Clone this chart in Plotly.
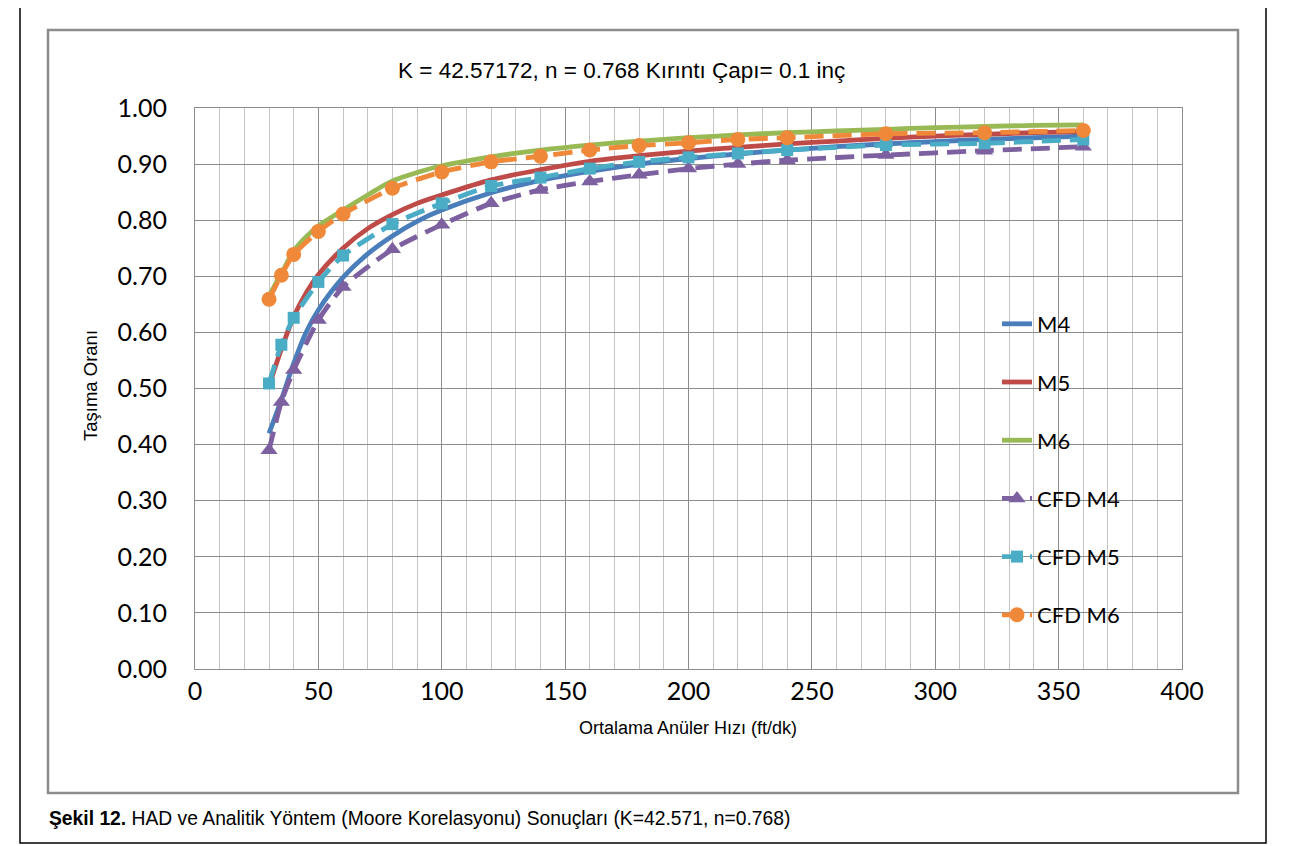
import plotly.graph_objects as go

# ---------------- data ----------------
x_model = [30, 35, 40, 45, 50, 60, 70, 80, 90, 100, 120, 140, 160, 180, 200,
           220, 240, 260, 280, 300, 320, 340, 360]
m4 = [0.420, 0.480, 0.545, 0.600, 0.640, 0.698, 0.740, 0.772, 0.798, 0.818,
      0.849, 0.871, 0.887, 0.900, 0.910, 0.918, 0.925, 0.931, 0.936, 0.940,
      0.944, 0.947, 0.950]
m5 = [0.505, 0.570, 0.628, 0.670, 0.703, 0.750, 0.785, 0.810, 0.830, 0.845,
      0.872, 0.890, 0.905, 0.915, 0.923, 0.930, 0.936, 0.941, 0.946, 0.950,
      0.953, 0.956, 0.958]
m6 = [0.665, 0.705, 0.745, 0.770, 0.790, 0.818, 0.845, 0.870, 0.885, 0.897,
      0.913, 0.925, 0.934, 0.941, 0.947, 0.952, 0.956, 0.959, 0.962, 0.965,
      0.967, 0.969, 0.970]

x_cfd = [30, 35, 40, 50, 60, 80, 100, 120, 140, 160, 180, 200, 220, 240,
         280, 320, 360]
cfd_m4 = [0.390, 0.476, 0.533, 0.622, 0.681, 0.748, 0.792, 0.830, 0.854,
          0.869, 0.881, 0.892, 0.900, 0.907, 0.916, 0.924, 0.931]
cfd_m5 = [0.509, 0.578, 0.626, 0.690, 0.737, 0.793, 0.830, 0.861, 0.876,
          0.892, 0.904, 0.912, 0.919, 0.925, 0.934, 0.937, 0.944]
cfd_m6 = [0.659, 0.702, 0.739, 0.780, 0.811, 0.857, 0.886, 0.904, 0.914,
          0.925, 0.933, 0.938, 0.944, 0.947, 0.954, 0.956, 0.960]

x_ticks = [0, 50, 100, 150, 200, 250, 300, 350, 400]
y_ticks = [0.0, 0.1, 0.2, 0.3, 0.4, 0.5, 0.6, 0.7, 0.8, 0.9, 1.0]

title_text = "K = 42.57172, n = 0.768 Kırıntı Çapı= 0.1 inç"
x_title = "Ortalama Anüler Hızı (ft/dk)"
y_title = "Taşıma Oranı"
caption_bold = "Şekil 12."
caption_rest = " HAD ve Analitik Yöntem (Moore Korelasyonu) Sonuçları (K=42.571, n=0.768)"

# ---------------- style ----------------
C_M4, C_M5, C_M6 = "#4A7EBB", "#BE4B48", "#98B954"
C_C4, C_C5, C_C6 = "#7D60A0", "#4BACC6", "#F0883A"
TICK_FONT = "Lato, 'Open Sans', sans-serif"
REG = "'Liberation Sans', Arial, sans-serif"

OFF = 8                      # page body margin
W, H = 1294 - OFF, 846 - OFF
# plot area in page pixels
L, R, T, B = 195, 1182, 108, 669


def px(xp):
    return (xp - L) / (R - L)


def py(yp):
    return (B - yp) / (B - T)


fig = go.Figure()

solid = dict(width=4.8, shape="spline", smoothing=0.8)
dash = "19px,9px"

fig.add_trace(go.Scatter(x=x_model, y=m4, name="M4", mode="lines",
                         line=dict(color=C_M4, **solid), legendgroup="a"))
fig.add_trace(go.Scatter(x=x_model, y=m5, name="M5", mode="lines",
                         line=dict(color=C_M5, **solid), legendgroup="b"))
fig.add_trace(go.Scatter(x=x_model, y=m6, name="M6", mode="lines",
                         line=dict(color=C_M6, **solid), legendgroup="c"))
fig.add_trace(go.Scatter(x=x_cfd, y=cfd_m4, name="CFD M4", mode="lines+markers",
                         line=dict(color=C_C4, width=4.8, dash=dash, shape="spline", smoothing=0.6),
                         marker=dict(symbol="triangle-up", size=15, color=C_C4),
                         legendgroup="d"))
fig.add_trace(go.Scatter(x=x_cfd, y=cfd_m5, name="CFD M5", mode="lines+markers",
                         line=dict(color=C_C5, width=4.8, dash=dash, shape="spline", smoothing=0.6),
                         marker=dict(symbol="square", size=12, color=C_C5),
                         legendgroup="e"))
fig.add_trace(go.Scatter(x=x_cfd, y=cfd_m6, name="CFD M6", mode="lines+markers",
                         line=dict(color=C_C6, width=4.8, dash=dash, shape="spline", smoothing=0.6),
                         marker=dict(symbol="circle", size=15, color=C_C6),
                         legendgroup="f"))

shapes = [
    # outer black frame
    dict(type="rect", xref="paper", yref="paper", x0=px(20), x1=px(1266),
         y0=py(843), y1=py(5), line=dict(color="black", width=1.5), layer="below"),
    # chart area gray frame
    dict(type="rect", xref="paper", yref="paper", x0=px(48), x1=px(1238),
         y0=py(793), y1=py(30), line=dict(color="#8c8c8c", width=2.5), layer="below"),
    # legend background box (covers gridlines)
    dict(type="rect", xref="paper", yref="paper", x0=px(908), x1=px(1172),
         y0=py(643), y1=py(293), fillcolor="white", line=dict(width=0), layer="between"),
]

annotations = [
    dict(text=title_text, xref="paper", yref="paper", x=px(621), y=py(70),
         xanchor="center", yanchor="middle", showarrow=False,
         font=dict(family=REG, size=22.5, color="black")),
    dict(text=x_title, xref="paper", yref="paper", x=px(688), y=py(728),
         xanchor="center", yanchor="middle", showarrow=False,
         font=dict(family=REG, size=18, color="black")),
    dict(text=y_title, xref="paper", yref="paper", x=px(91), y=py(386),
         xanchor="center", yanchor="middle", showarrow=False, textangle=-90,
         font=dict(family=REG, size=18.5, color="black")),
    dict(text="<b>" + caption_bold + "</b>" + caption_rest, xref="paper", yref="paper",
         x=px(47), y=py(818), xanchor="left", yanchor="middle", showarrow=False,
         font=dict(family=REG, size=19.3, color="black")),
]

fig.update_layout(
    width=W, height=H,
    margin=dict(l=L - OFF, r=W - (R - OFF), t=T - OFF, b=H - (B - OFF), pad=0),
    paper_bgcolor="white", plot_bgcolor="white",
    shapes=shapes, annotations=annotations,
    showlegend=True,
    legend=dict(x=px(997), y=py(303), xanchor="left", yanchor="top",
                bgcolor="rgba(0,0,0,0)", borderwidth=0,
                font=dict(family=TICK_FONT, size=22, color="black"),
                tracegroupgap=26.6, itemwidth=30),
    xaxis=dict(range=[0, 400], tickvals=x_ticks, ticktext=[str(v) for v in x_ticks],
               showgrid=True, gridcolor="#8c8c8c", gridwidth=1,
               minor=dict(dtick=10, showgrid=True, gridcolor="#c4c4c4", gridwidth=1),
               showline=True, mirror=True, linecolor="#8c8c8c", linewidth=1.2,
               zeroline=False, ticks="", ticklabelstandoff=0,
               tickfont=dict(family=TICK_FONT, size=25, color="black")),
    yaxis=dict(range=[0, 1], tickvals=y_ticks, ticktext=[f"{v:.2f}" for v in y_ticks],
               showgrid=True, gridcolor="#8c8c8c", gridwidth=1,
               showline=True, mirror=True, linecolor="#8c8c8c", linewidth=1.2,
               zeroline=False, ticks="", ticklabelstandoff=22,
               tickfont=dict(family=TICK_FONT, size=25, color="black")),
)

fig.write_html("out.html")
